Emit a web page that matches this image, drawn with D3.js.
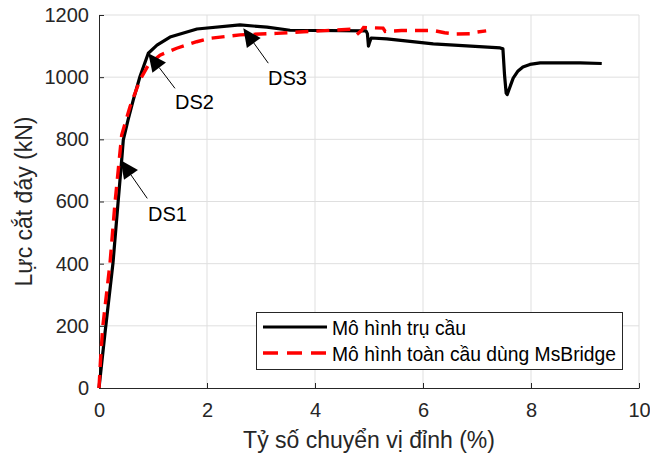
<!DOCTYPE html>
<html>
<head>
<meta charset="utf-8">
<script src="https://cdn.jsdelivr.net/npm/d3@7"></script>
<style>
  html, body { margin: 0; padding: 0; background: #fff; }
  svg { display: block; font-family: "Liberation Sans", Arial, Helvetica, sans-serif; }
</style>
</head>
<body>
<svg id="chart" width="650" height="456"></svg>
<script>
// Pushover curve of the pier model: [drift ratio (%), base shear (kN)]
const pierModel = [
  [0, 0], [0.111, 177], [0.259, 402], [0.352, 595], [0.42, 733], [0.45, 798],
  [0.537, 862], [0.635, 927], [0.759, 1002], [0.913, 1077], [1.074, 1103], [1.315, 1129],
  [1.815, 1155], [2.611, 1168], [3.111, 1161], [3.537, 1151], [4.944, 1149],
  [4.97, 1140], [4.99, 1100], [5.01, 1112], [5.04, 1126], [5.33, 1123], [6.19, 1107],
  [7.43, 1094], [7.48, 1091], [7.51, 1007], [7.54, 949], [7.56, 944], [7.59, 959],
  [7.67, 997], [7.76, 1020], [7.85, 1033], [7.98, 1041], [8.17, 1046], [8.91, 1046],
  [9.31, 1044]
];

// Pushover curve of the full-bridge MsBridge model
const fullBridgeModel = [
  [0, 0], [0.028, 90], [0.069, 196], [0.204, 402], [0.296, 595], [0.42, 814],
  [0.574, 905], [0.759, 991], [0.913, 1039], [1.13, 1071], [1.439, 1093], [1.809, 1114],
  [2.056, 1125], [2.611, 1136], [3.291, 1141], [3.783, 1146], [4.648, 1154],
  [4.75, 1152], [4.80, 1141], [4.86, 1150], [4.90, 1160], [5.0, 1159], [5.26, 1158],
  [5.30, 1147], [5.6, 1150], [6.2, 1150], [6.4, 1143], [6.6, 1139], [6.9, 1140],
  [7.0, 1145], [7.17, 1149]
];

// Damage-state annotations: arrow tip, arrow tail and label anchor (data units)
const damageLabels = ["DS1", "DS2", "DS3"];
const arrowTips = [[0.402, 733], [0.913, 1077], [2.672, 1157]];
const arrowTails = [[0.894, 610], [1.407, 964], [3.135, 1045]];
const labelAnchors = [[0.907, 537], [1.407, 898], [3.13, 975]];

const xTicks = [0, 2, 4, 6, 8, 10];
const yTicks = [0, 200, 400, 600, 800, 1000, 1200];
const xDomain = [0, 10];
const yDomain = [0, 1200];

const seriesNames = ["Mô hình trụ cầu", "Mô hình toàn cầu dùng MsBridge"];
const xTitle = "Tỷ số chuyển vị đỉnh (%)";
const yTitle = "Lực cắt đáy (kN)";

const textColor = "#262626";
const gridColor = "#dfdfdf";

const svg = d3.select("#chart");
const plot = { left: 99, right: 639, top: 15, bottom: 388 };

const x = d3.scaleLinear().domain(xDomain).range([plot.left, plot.right]);
const y = d3.scaleLinear().domain(yDomain).range([plot.bottom, plot.top]);

// grid
const grid = svg.append("g");
grid.selectAll("line.gx").data(xTicks.filter(d => d > 0)).join("line")
  .attr("x1", d => x(d)).attr("x2", d => x(d))
  .attr("y1", plot.top).attr("y2", plot.bottom)
  .attr("stroke", gridColor).attr("stroke-width", 1);
grid.selectAll("line.gy").data(yTicks.filter(d => d > 0)).join("line")
  .attr("x1", plot.left).attr("x2", plot.right)
  .attr("y1", d => y(d)).attr("y2", d => y(d))
  .attr("stroke", gridColor).attr("stroke-width", 1);

// axes with inward ticks
const xAxis = svg.append("g")
  .attr("transform", `translate(0,${plot.bottom})`)
  .call(d3.axisBottom(x).tickValues(xTicks).tickFormat(d3.format("d"))
    .tickSizeInner(-5).tickSizeOuter(0).tickPadding(15));
const yAxis = svg.append("g")
  .attr("transform", `translate(${plot.left},0)`)
  .call(d3.axisLeft(y).tickValues(yTicks).tickFormat(d3.format("d"))
    .tickSizeInner(-5).tickSizeOuter(0).tickPadding(10));

[xAxis, yAxis].forEach(g => {
  g.select(".domain").attr("stroke", textColor).attr("stroke-width", 1);
  g.selectAll(".tick line").attr("stroke", textColor);
  g.selectAll(".tick text").attr("fill", textColor)
    .style("font-size", "20px")
    .style("font-family", "'Liberation Sans', Arial, sans-serif");
});

// axis titles
svg.append("text")
  .attr("x", (plot.left + plot.right) / 2).attr("y", 448)
  .attr("text-anchor", "middle").attr("fill", textColor)
  .style("font-size", "23px").text(xTitle);
svg.append("text")
  .attr("transform", `translate(32,${(plot.top + plot.bottom) / 2}) rotate(-90)`)
  .attr("text-anchor", "middle").attr("fill", textColor)
  .style("font-size", "23px").text(yTitle);

// curves
const curvePath = d3.line().x(d => x(d[0])).y(d => y(d[1]));
svg.append("path").datum(pierModel)
  .attr("d", curvePath)
  .attr("fill", "none").attr("stroke", "#000").attr("stroke-width", 3.2)
  .attr("stroke-linejoin", "round");
svg.append("path").datum(fullBridgeModel)
  .attr("d", curvePath)
  .attr("fill", "none").attr("stroke", "#ff0000").attr("stroke-width", 3.4)
  .attr("stroke-dasharray", "13,8");

// damage-state arrows
const headLen = 18, headHalf = 8.5;
damageLabels.forEach((name, i) => {
  const tx = x(arrowTips[i][0]), ty = y(arrowTips[i][1]);
  const sx = x(arrowTails[i][0]), sy = y(arrowTails[i][1]);
  const dx = tx - sx, dy = ty - sy, len = Math.hypot(dx, dy);
  const ux = dx / len, uy = dy / len;
  const bx = tx - ux * headLen, by = ty - uy * headLen;
  svg.append("line")
    .attr("x1", sx).attr("y1", sy).attr("x2", bx).attr("y2", by)
    .attr("stroke", "#000").attr("stroke-width", 1);
  svg.append("polygon")
    .attr("points", [
      [tx, ty],
      [bx - uy * headHalf, by + ux * headHalf],
      [bx + uy * headHalf, by - ux * headHalf]
    ].map(p => p.join(",")).join(" "))
    .attr("fill", "#000");
  svg.append("text")
    .attr("x", x(labelAnchors[i][0])).attr("y", y(labelAnchors[i][1]))
    .attr("fill", "#000").style("font-size", "20px").text(name);
});

// legend
const legend = svg.append("g");
legend.append("rect")
  .attr("x", 256.5).attr("y", 312.5).attr("width", 366).attr("height", 57)
  .attr("fill", "#fff").attr("stroke", textColor).attr("stroke-width", 1);
const legendStyles = [
  { stroke: "#000", dash: null, width: 3.2 },
  { stroke: "#ff0000", dash: "15,9", width: 3.4 }
];
seriesNames.forEach((name, i) => {
  const cy = 327 + i * 26;
  legend.append("line")
    .attr("x1", 263).attr("x2", 327).attr("y1", cy).attr("y2", cy)
    .attr("stroke", legendStyles[i].stroke).attr("stroke-width", legendStyles[i].width)
    .attr("stroke-dasharray", legendStyles[i].dash);
  legend.append("text")
    .attr("x", 332).attr("y", cy + 8)
    .attr("fill", "#000").style("font-size", "19.3px").text(name);
});
</script>
</body>
</html>
